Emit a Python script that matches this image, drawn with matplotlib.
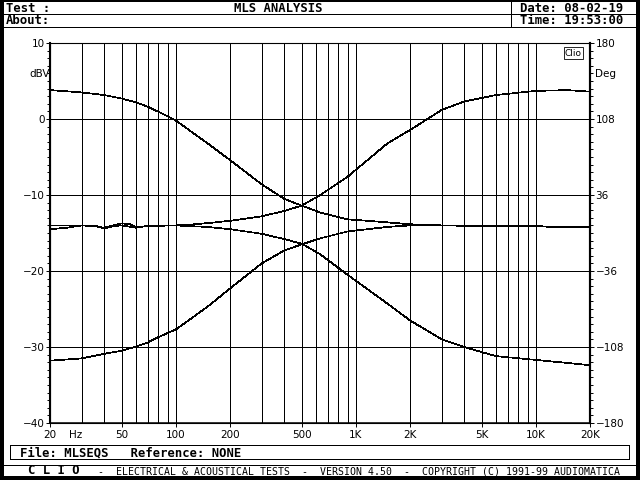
import matplotlib
matplotlib.use("Agg")
import matplotlib.pyplot as plt
import numpy as np
from matplotlib.patches import Rectangle

# bass boost curve (upper left, falls to -14)
freq_bass_boost = [20, 30, 40, 50, 60, 70, 80, 100, 150, 200, 300, 400, 500, 634, 900,
                   1500, 2000, 3000, 4500]
db_bass_boost = [3.8, 3.5, 3.15, 2.7, 2.2, 1.6, 0.95, -0.2, -3.2, -5.4, -8.6, -10.5, -11.4,
                 -12.3, -13.2, -13.6, -13.85, -14.0, -14.0]

# bass cut curve (lower left, rises to -14, runs on to 20k)
freq_bass_cut = [20, 30, 40, 50, 60, 70, 80, 100, 150, 200, 300, 400, 500, 634, 900, 1500,
                 2000, 3000, 4000, 6000, 10000, 12000, 15000, 20000]
db_bass_cut = [-31.8, -31.5, -30.9, -30.5, -29.95, -29.4, -28.7, -27.7, -24.7, -22.3, -19.0,
               -17.3, -16.5, -15.7, -14.8, -14.2, -14.0, -14.0, -14.05, -14.05, -14.05,
               -14.2, -14.2, -14.25]

# treble boost curve (flat -14 at left, rises to the right)
freq_treble_boost = [20, 25, 30, 35, 40, 45, 50, 55, 60, 70, 80, 100, 120, 150, 200, 300, 400,
                     500, 634, 900, 1500, 2000, 2500, 3000, 4000, 6000, 10000, 15000, 20000]
db_treble_boost = [-14.0, -14.0, -14.0, -14.1, -14.3, -14.0, -13.75, -13.8, -14.2, -14.1,
                   -14.05, -14.0, -13.9, -13.7, -13.4, -12.8, -12.1, -11.4, -10.0, -7.6, -3.2,
                   -1.45, 0.0, 1.2, 2.3, 3.15, 3.7, 3.8, 3.6]

# treble cut curve (flat -14 at left, falls to the right)
freq_treble_cut = [20, 25, 30, 35, 40, 45, 50, 60, 70, 80, 100, 120, 150, 200, 300, 400, 500,
                   634, 900, 1500, 2000, 3000, 4000, 6000, 10000, 15000, 20000]
db_treble_cut = [-14.5, -14.3, -14.0, -14.0, -14.4, -14.1, -14.0, -14.3, -14.05, -14.0, -14.0,
                 -14.1, -14.2, -14.5, -15.1, -15.8, -16.4, -17.8, -20.5, -24.3, -26.5, -29.0,
                 -30.0, -31.2, -31.7, -32.1, -32.4]

x_ticks = [20, 50, 100, 200, 500, 1000, 2000, 5000, 10000, 20000]
x_labels = ["20", "50", "100", "200", "500", "1K", "2K", "5K", "10K", "20K"]
db_ticks = [-40, -30, -20, -10, 0, 10]
deg_ticks = [-180, -108, -36, 36, 108, 180]

W, H = 640, 480
fig = plt.figure(figsize=(6.4, 4.8), dpi=100)
fig.patch.set_facecolor("white")

# page frame drawn in pixel coords
frame = fig.add_axes([0, 0, 1, 1])
frame.set_xlim(0, W)
frame.set_ylim(H, 0)
frame.axis("off")

mono = "DejaVu Sans Mono"
k = dict(color="black", lw=0.7, antialiased=False)
frame.add_patch(Rectangle((0, 0), 3.5, H, fc="black", ec="none"))
frame.add_patch(Rectangle((636, 0), 4, H, fc="black", ec="none"))
frame.add_patch(Rectangle((0, 476), W, 4, fc="black", ec="none"))
frame.add_patch(Rectangle((0, 0), W, 1.5, fc="black", ec="none"))
frame.plot([3, 636], [13.5, 13.5], **k)
frame.plot([3, 636], [27, 27], **k)
frame.plot([511, 511], [1, 27], **k)
frame.plot([3, 636], [465, 465], **k)
frame.add_patch(Rectangle((10, 445), 619, 14, fc="none", ec="black", lw=0.7,
                          antialiased=False))

hdr = dict(family=mono, weight="bold", fontsize=8.8, va="center")
frame.text(6, 8, "Test :", **hdr)
frame.text(278, 8, "MLS ANALYSIS", ha="center", **hdr)
frame.text(6, 21, "About:", **hdr)
frame.text(520, 8, "Date: 08-02-19", **hdr)
frame.text(520, 21, "Time: 19:53:00", **hdr)
frame.text(20, 452.5, "File: MLSEQS   Reference: NONE", **hdr)
frame.text(28, 471, "C L I O", **hdr)
frame.text(98, 471, "-  ELECTRICAL & ACOUSTICAL TESTS  -  VERSION 4.50  -  "
           "COPYRIGHT (C) 1991-99 AUDIOMATICA", family=mono, fontsize=7.1, va="center")

# main plot
ax = fig.add_axes([50 / W, 1 - 423 / H, 540 / W, 380 / H])
ax.set_xscale("log")
ax.set_xlim(20, 20000)
ax.set_ylim(-40, 10)

for f, d in [(freq_bass_boost, db_bass_boost), (freq_bass_cut, db_bass_cut),
             (freq_treble_boost, db_treble_boost), (freq_treble_cut, db_treble_cut)]:
    ax.plot(f, d, color="black", lw=0.5, antialiased=False, zorder=3)

grid_freqs = [m * 10 ** e for e in range(1, 5) for m in range(1, 10)
              if 20 <= m * 10 ** e <= 20000]
ax.set_xticks(grid_freqs, minor=True)
ax.set_xticks(x_ticks)
ax.set_xticklabels(x_labels)
ax.tick_params(axis="x", which="minor", length=0)
ax.tick_params(axis="x", which="major", length=3, width=0.7, direction="out", pad=2,
               labelsize=7.5)
ax.grid(True, which="both", axis="x", color="black", lw=0.6, antialiased=False)
ax.set_yticks(db_ticks)
ax.set_yticks(np.arange(-40, 11, 1), minor=True)
ax.tick_params(axis="y", which="major", length=3, width=0.7, labelsize=7.5, pad=1)
ax.tick_params(axis="y", which="minor", length=2, width=0.7)
ax.grid(True, which="major", axis="y", color="black", lw=0.6, antialiased=False)
for lab in ax.get_yticklabels() + ax.get_xticklabels():
    lab.set_family("DejaVu Sans")
ax.spines["left"].set_linewidth(1.5)
ax.spines["bottom"].set_linewidth(1.1)
ax.spines["top"].set_linewidth(0.7)
ax.spines["right"].set_linewidth(1.5)

ax2 = ax.twinx()
ax2.set_ylim(-180, 180)
ax2.set_yticks(deg_ticks)
ax2.set_yticks(np.arange(-180, 180.1, 7.2), minor=True)
ax2.tick_params(axis="y", which="major", length=3, width=0.7, labelsize=7.5, pad=1)
ax2.tick_params(axis="y", which="minor", length=2, width=0.7)
ax2.spines["right"].set_linewidth(1.5)

frame.text(40, 74, "dBV", fontsize=7.5, ha="center", va="center")
frame.text(605, 74, "Deg", fontsize=7.5, ha="center", va="center")
frame.text(76, 435, "Hz", fontsize=7.5, ha="center", va="center")
ax.text(0.985, 0.985, "Clio", transform=ax.transAxes, fontsize=6.5, ha="right", va="top",
        zorder=5, bbox=dict(boxstyle="square,pad=0.15", fc="white", ec="black", lw=0.6))

fig.savefig("out.png", dpi=100)
